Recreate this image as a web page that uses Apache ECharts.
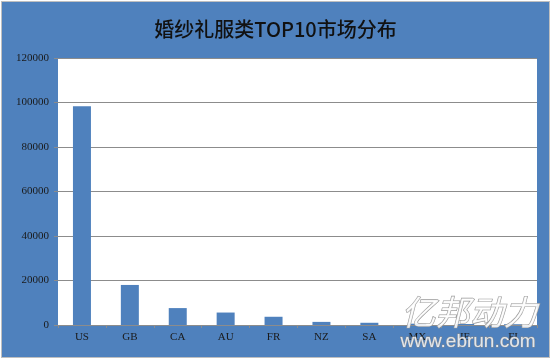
<!DOCTYPE html>
<html><head><meta charset="utf-8">
<script src="https://cdn.jsdelivr.net/npm/echarts@6/dist/echarts.min.js"></script>
<style>
html,body{margin:0;padding:0;background:#fff;}
#c{position:absolute;left:1px;top:1px;width:547px;height:355px;border:1px solid #bfbfbf;}
</style></head>
<body><div id="c"></div>
<script>
const titleText = '婚纱礼服类TOP10市场分布';
const categories = ['US','GB','CA','AU','FR','NZ','SA','MX','IE','FI'];
const values = [98300, 18000, 7600, 5600, 3700, 1400, 1000, 600, 450, 350];
const yMin = 0, yMax = 120000, yStep = 20000;

const chart = echarts.init(document.getElementById('c'));
chart.setOption({
  backgroundColor: '#4F81BD',
  animation: false,
  title: {
    text: titleText, left: 'center', top: 12,
    textStyle: {fontFamily: '"Noto Sans CJK SC"', fontSize: 20, fontWeight: 500, color: '#111'}
  },
  grid: {left: 56, right: 12, top: 56, bottom: 32, show: true, backgroundColor: '#fff', borderWidth: 0},
  xAxis: {
    type: 'category', data: categories,
    axisLine: {lineStyle: {color: '#8c8c8c', width: 1}},
    axisTick: {show: true, length: 3, lineStyle: {color: '#8c8c8c'}},
    axisLabel: {margin: 7, color: '#1a1a1a', fontFamily: '"Liberation Serif"', fontSize: 11}
  },
  yAxis: {
    type: 'value', min: yMin, max: yMax, interval: yStep,
    axisLine: {show: false},
    axisTick: {show: true, length: 4, lineStyle: {color: '#8c8c8c'}},
    splitLine: {lineStyle: {color: '#8c8c8c', width: 1}},
    axisLabel: {margin: 9, color: '#1a1a1a', fontFamily: '"Liberation Serif"', fontSize: 11,
      formatter: v => String(v)}
  },
  series: [{
    type: 'bar', data: values, barWidth: 18,
    itemStyle: {color: '#4F81BD'}
  }],
  graphic: [
    {type: 'text', right: 11, top: 292, z: 100,
     style: {text: '亿邦动力', font: 'italic 34px "Noto Sans CJK SC"', fill: 'rgba(255,255,255,0.85)', stroke: '#9a9a9a', lineWidth: 1.2}},
    {type: 'text', right: 13, top: 330, z: 100,
     style: {text: 'www.ebrun.com', font: '19px "Liberation Sans"', fill: 'rgba(255,255,255,0.8)', stroke: '#8a8a8a', lineWidth: 0.8}}
  ]
});
</script></body></html>
